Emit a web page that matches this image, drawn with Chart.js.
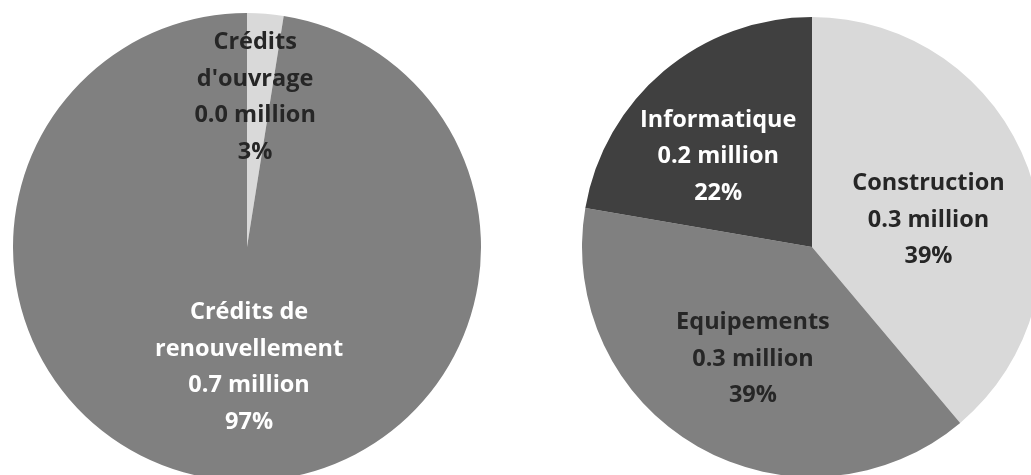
<!DOCTYPE html>
<html>
<head>
<meta charset="utf-8">
<script src="https://cdn.jsdelivr.net/npm/chart.js@4.4.0/dist/chart.umd.min.js"></script>
<style>
    html, body { margin: 0; padding: 0; background: #fff; overflow: hidden; }
    #wrap { position: relative; width: 1031px; height: 475px; overflow: hidden; }
    canvas { position: absolute; }
    #leftPie { left: 13px; top: 13px; }
    #rightPie { left: 582px; top: 17px; }
</style>
</head>
<body>
<div id="wrap">
    <canvas id="leftPie" width="468" height="468"></canvas>
    <canvas id="rightPie" width="460" height="460"></canvas>
</div>
<script>
// ─────────────────────────────────────────────
// DATA
// ─────────────────────────────────────────────
const leftLabels = [["Crédits", "d'ouvrage"], ["Crédits de", "renouvellement"]];
const leftValues = [0.018, 0.700];
const leftColors = ['#d9d9d9', '#808080'];
const leftTextColors = ['#262626', '#ffffff'];

const rightLabels = [["Construction"], ["Equipements"], ["Informatique"]];
const rightValues = [0.340, 0.340, 0.195];
const rightColors = ['#d9d9d9', '#808080', '#404040'];
const rightTextColors = ['#262626', '#262626', '#ffffff'];


// ─────────────────────────────────────────────
// LABEL PLUGIN (name / value / percent inside each slice)
// ─────────────────────────────────────────────
const sliceLabels = {
    id: 'sliceLabels',
    afterDatasetsDraw(chart, args, opts) {
        const ctx = chart.ctx;
        const ds = chart.data.datasets[0];
        const total = ds.data.reduce((a, b) => a + b, 0);
        const meta = chart.getDatasetMeta(0);

        ctx.save();
        ctx.font = 'bold 23.5px "Open Sans", sans-serif';
        ctx.textAlign = 'center';
        ctx.textBaseline = 'middle';

        meta.data.forEach(function (arc, i) {
            const place = opts.place[i];
            const mid = (arc.startAngle + arc.endAngle) / 2 + place.shift * Math.PI / 180;
            const r = arc.outerRadius * place.dist;
            const x = arc.x + Math.cos(mid) * r;
            const y = arc.y + Math.sin(mid) * r;

            const lines = chart.data.labels[i].slice();
            lines.push(ds.data[i].toFixed(1) + ' million');
            lines.push(Math.round(ds.data[i] / total * 100) + '%');

            ctx.fillStyle = opts.colors[i];
            const lh = 36.5;
            const top = y - (lines.length - 1) * lh / 2;
            lines.forEach(function (t, k) {
                ctx.fillText(t, x, top + k * lh);
            });
        });
        ctx.restore();
    }
};


// ─────────────────────────────────────────────
// CHART HELPER
// ─────────────────────────────────────────────
function createPie(id, labels, values, colors, textColors, place) {
    const el = document.getElementById(id);
    if (!el) return;

    new Chart(el.getContext('2d'), {
        type: 'pie',
        data: {
            labels: labels,
            datasets: [{
                data: values,
                backgroundColor: colors,
                borderWidth: 0
            }]
        },
        options: {
            responsive: false,
            animation: false,
            layout: { padding: 0 },
            plugins: {
                legend: { display: false },
                tooltip: { enabled: false },
                sliceLabels: { colors: textColors, place: place }
            }
        },
        plugins: [sliceLabels]
    });
}


// ─────────────────────────────────────────────
// LEFT PIE
// ─────────────────────────────────────────────
createPie('leftPie', leftLabels, leftValues, leftColors, leftTextColors,
    [{ shift: -1.4, dist: 0.64 }, { shift: -5.5, dist: 0.515 }]);


// ─────────────────────────────────────────────
// RIGHT PIE
// ─────────────────────────────────────────────
createPie('rightPie', rightLabels, rightValues, rightColors, rightTextColors,
    [{ shift: 7, dist: 0.52 }, { shift: -2, dist: 0.55 }, { shift: -6, dist: 0.566 }]);
</script>
</body>
</html>
